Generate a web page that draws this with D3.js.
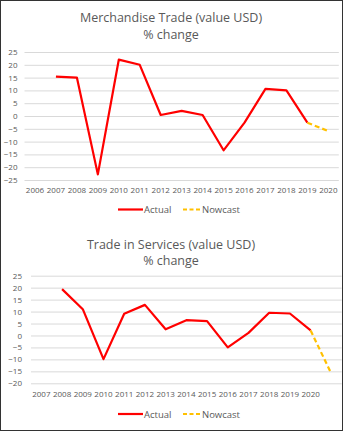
<!DOCTYPE html>
<html><head><meta charset="utf-8">
<script src="https://cdn.jsdelivr.net/npm/d3@7"></script>
<style>body{margin:0;background:#fff}svg{display:block}</style>
</head><body>
<script>
// ---- Data ----
const merchYears = ["2006","2007","2008","2009","2010","2011","2012","2013","2014","2015","2016","2017","2018","2019","2020"];
const merchActual = [null,15.4,15.0,-22.8,22.0,20.0,0.4,2.0,0.4,-13.4,-2.6,10.6,10.0,-2.6,null];
const merchNowcast = [null,null,null,null,null,null,null,null,null,null,null,null,null,-2.6,-5.9];
const merchTicks = [25,20,15,10,5,0,-5,-10,-15,-20,-25];

const servYears = ["2007","2008","2009","2010","2011","2012","2013","2014","2015","2016","2017","2018","2019","2020",""];
const servActual = [null,19.4,11.0,-9.9,9.1,12.8,2.6,6.4,6.0,-5.0,1.1,9.5,9.2,2.1,null];
const servNowcast = [null,null,null,null,null,null,null,null,null,null,null,null,null,2.1,-16.0];
const servTicks = [25,20,15,10,5,0,-5,-10,-15,-20];

const W = 343, H = 431;
const svg = d3.select("body").append("svg").attr("width", W).attr("height", H);
svg.append("rect").attr("x",0.5).attr("y",0.5).attr("width",W-1).attr("height",H-1)
  .attr("fill","#fff").attr("stroke","#333").attr("stroke-width",1);

const FONT = "'Open Sans', sans-serif";
const GRAY = "#595959";

function panel(cfg){
  const g = svg.append("g");
  const x = d3.scaleBand().domain(cfg.cats.map((c,i)=>i)).range([cfg.x0,cfg.x1]).padding(0);
  const y = d3.scaleLinear().domain([cfg.ymin,cfg.ymax]).range([cfg.yb,cfg.yt]);
  const cx = i => x(i) + x.bandwidth()/2;
  // titles
  cfg.title.forEach((t,k)=>{
    g.append("text").attr("x",cfg.tx).attr("y",cfg.ty[k]).attr("text-anchor","middle")
      .attr("dominant-baseline","central").attr("font-family",FONT).attr("font-size",12.5)
      .attr("fill",GRAY).text(t);
  });
  // grid
  const yAxis = d3.axisLeft(y).tickValues(cfg.ticks).tickSize(-(cfg.x1-cfg.x0)).tickPadding(cfg.pad).tickFormat(d3.format("d"));
  const ga = g.append("g").attr("transform",`translate(${cfg.x0},0)`).call(yAxis);
  ga.select(".domain").remove();
  ga.selectAll("line").attr("stroke","#d9d9d9").attr("stroke-width",1);
  ga.selectAll("text").attr("font-family",FONT).attr("font-size",8).attr("fill",GRAY);
  // x labels
  const xAxis = d3.axisBottom(x).tickFormat(i=>cfg.cats[i]).tickSize(0).tickPadding(0);
  const gx = g.append("g").attr("transform",`translate(0,${cfg.xl})`).call(xAxis);
  gx.select(".domain").remove();
  gx.selectAll("text").attr("font-family",FONT).attr("font-size",8).attr("fill",GRAY).attr("dy","0.32em");
  // lines
  const line = d3.line().defined(d=>d.v!=null).x(d=>cx(d.i)).y(d=>y(d.v));
  g.append("path").datum(cfg.actual.map((v,i)=>({v,i})))
    .attr("d",line).attr("fill","none").attr("stroke","#ff0000").attr("stroke-width",2.2).attr("stroke-linejoin","round");
  g.append("path").datum(cfg.nowcast.map((v,i)=>({v,i})))
    .attr("d",line).attr("fill","none").attr("stroke","#ffc000").attr("stroke-width",2.2).attr("stroke-dasharray","5,3");
  // legend
  const ly = cfg.ly;
  g.append("line").attr("x1",118).attr("x2",143).attr("y1",ly).attr("y2",ly).attr("stroke","#ff0000").attr("stroke-width",2.2);
  g.append("text").attr("x",144).attr("y",ly).attr("dominant-baseline","central").attr("font-family",FONT)
    .attr("font-size",9.5).attr("fill",GRAY).text("Actual");
  g.append("line").attr("x1",183).attr("x2",200).attr("y1",ly).attr("y2",ly).attr("stroke","#ffc000").attr("stroke-width",2.2).attr("stroke-dasharray","4,2.5");
  g.append("text").attr("x",202).attr("y",ly).attr("dominant-baseline","central").attr("font-family",FONT)
    .attr("font-size",9.5).attr("fill",GRAY).text("Nowcast");
}

panel({cats:merchYears, actual:merchActual, nowcast:merchNowcast, ticks:merchTicks,
  x0:24.5, x1:338.8, ymin:-25, ymax:25, yb:180, yt:52, pad:7, xl:190.7, ly:209.5,
  title:["Merchandise Trade (value USD)","% change"], tx:171, ty:[17,34]});

panel({cats:servYears, actual:servActual, nowcast:servNowcast, ticks:servTicks,
  x0:31, x1:341.7, ymin:-20, ymax:25, yb:383.3, yt:275.7, pad:9, xl:394.3, ly:414,
  title:["Trade in Services (value USD)","% change"], tx:171, ty:[244,260]});
</script>
</body></html>
